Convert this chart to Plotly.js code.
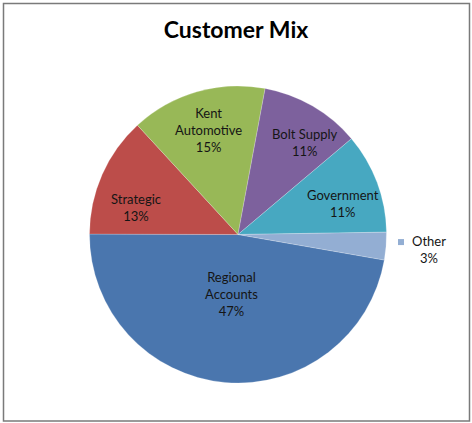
<!DOCTYPE html>
<html>
<head>
<meta charset="utf-8">
<script src="https://cdn.plot.ly/plotly-3.0.1.min.js"></script>
<style>html,body{margin:0;padding:0;background:#fff;}#chart{width:472px;height:423px;}</style>
</head>
<body>
<div id="chart"></div>
<script>
// ---- data ----
var categories = ["Regional Accounts", "Strategic", "Kent Automotive", "Bolt Supply", "Government", "Other"];
var labelText  = ["Regional<br>Accounts", "Strategic", "Kent<br>Automotive", "Bolt Supply", "Government", "Other"];
var shares     = [47.25, 13.1, 14.75, 10.9, 10.9, 3.0];

// ---- style ----
var colors = ["#4A76AE", "#BC4D4A", "#98B857", "#7D619D", "#47A8C1", "#93AED3"];
var W = 472, H = 423;
var cxPx = 238, cyPx = 234.5, rPx = 148.5;
var startAngle = 99.9;               // first slice starts here (clockwise from 12 o'clock)
var labelRadius = [0.40, 0.71, 0.73, 0.77, 0.74, 0];
var labelAngleNudge = [1, -9, 0, 6, 4, 0];
var font = "Lato, 'Open Sans', sans-serif";

var domainX = [(cxPx - rPx) / W, (cxPx + rPx) / W];
var domainY = [(H - (cyPx + rPx)) / H, (H - (cyPx - rPx)) / H];

var total = shares.reduce(function (a, b) { return a + b; }, 0);
var annotations = [];
var shapes = [{
  type: "rect", xref: "paper", yref: "paper",
  x0: 3.5 / W, x1: 469.5 / W, y0: 1 - 421 / H, y1: 1 - 3.5 / H,
  line: {color: "#7a7a7a", width: 1.5}, fillcolor: "rgba(0,0,0,0)"
}];
var cum = 0;
for (var i = 0; i < shares.length; i++) {
  var mid = startAngle + (cum + shares[i] / 2) / total * 360;
  cum += shares[i];
  var pct = Math.round(shares[i] / total * 100) + "%";
  var th = (mid + labelAngleNudge[i]) * Math.PI / 180;
  if (labelRadius[i] > 0) {
    var px = cxPx + rPx * labelRadius[i] * Math.sin(th);
    var py = cyPx - rPx * labelRadius[i] * Math.cos(th);
    annotations.push({
      xref: "paper", yref: "paper", x: px / W, y: 1 - py / H,
      xanchor: "center", yanchor: "middle", showarrow: false, align: "center",
      text: labelText[i] + "<br>" + pct,
      font: {family: font, size: 13, color: "#151515"}
    });
  } else {
    // outside label with legend key
    var ox = cxPx + (rPx + 12) * Math.sin(th);
    var oy = cyPx - (rPx + 12) * Math.cos(th);
    shapes.push({
      type: "rect", xref: "paper", yref: "paper",
      x0: (ox) / W, x1: (ox + 6) / W, y0: 1 - (oy - 2 - 6) / H, y1: 1 - (oy - 2) / H,
      line: {width: 0}, fillcolor: colors[i]
    });
    annotations.push({
      xref: "paper", yref: "paper", x: (ox + 12) / W, y: 1 - (oy + 2) / H,
      xanchor: "left", yanchor: "middle", showarrow: false, align: "center",
      text: labelText[i] + "<br>" + pct,
      font: {family: font, size: 13, color: "#151515"}
    });
  }
}

var trace = {
  type: "pie",
  labels: categories,
  values: shares,
  sort: false,
  direction: "clockwise",
  rotation: startAngle,
  textinfo: "none",
  hoverinfo: "label+percent",
  marker: {colors: colors, line: {color: "rgba(255,255,255,0.35)", width: 0.6}},
  domain: {x: domainX, y: domainY},
  showlegend: false
};

var layout = {
  width: W, height: H,
  margin: {l: 0, r: 0, t: 0, b: 0},
  paper_bgcolor: "#ffffff",
  title: {
    text: "<b>Customer Mix</b>",
    font: {family: font, size: 23, color: "#000000"},
    x: 0.5, xanchor: "center", xref: "paper",
    y: 1 - 30 / H, yanchor: "middle", yref: "container"
  },
  showlegend: false,
  annotations: annotations,
  shapes: shapes
};

Plotly.newPlot("chart", [trace], layout, {displayModeBar: false, staticPlot: true});
</script>
</body>
</html>
